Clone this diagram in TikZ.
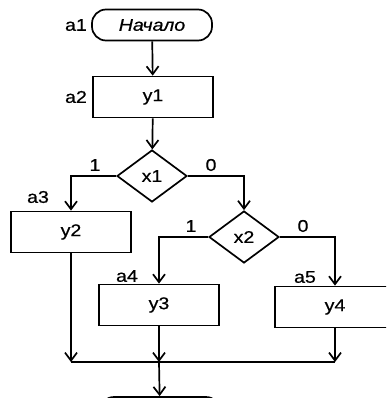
\documentclass[tikz,border=0pt]{standalone}
\usepackage{fontspec}
\setmainfont{Liberation Sans}
\newfontfamily\chartfam[FakeStretch=1.15,FakeBold=0.6]{Liberation Sans}
\usetikzlibrary{shapes.geometric,arrows.meta}

\newcommand{\chartfont}{\chartfam\fontsize{17pt}{20pt}\selectfont}

\tikzset{
  base/.style={draw=black, line width=1.7pt, inner sep=0pt, font=\chartfont},
  term/.style={base, rectangle, rounded corners=14pt, minimum width=120pt, minimum height=31pt},
  blk/.style={base, rectangle, minimum width=120pt, minimum height=41pt},
  cond/.style={base, diamond, minimum width=70pt, minimum height=52pt},
  lbl/.style={inner sep=0pt, font=\chartfont},
  flow/.style={line width=1.7pt, -{Straight Barb[length=8pt,width=12pt,line width=1.7pt]}},
  wire/.style={line width=1.7pt}
}

\begin{document}
\begin{tikzpicture}[x=1pt, y=-1pt]
  \useasboundingbox (0,0) rectangle (386,398);
  \clip (0,0) rectangle (386,398);

  % blocks
  \node[term] (start) at (152,25) {\itshape Начало};
  \node[blk]  (b1) at (153,97)  {y1};
  \node[cond] (c1) at (152,176) {x1};
  \node[blk]  (b2) at (71,232)  {y2};
  \node[cond] (c2) at (244,237) {x2};
  \node[blk]  (b3) at (159,305) {y3};
  \node[blk]  (b4) at (335,307) {y4};
  \node[term, minimum height=40pt] (stop) at (160,417) {};

  % state marks
  \node[lbl] (m1) at (76,25)  {a1};
  \node[lbl] (m2) at (76,97)  {a2};
  \node[lbl] (m3) at (38,197) {a3};
  \node[lbl] (m4) at (127,276) {a4};
  \node[lbl] (m5) at (305,277) {a5};

  % branch values
  \node[lbl] (v11) at (95,165)  {1};
  \node[lbl] (v10) at (211,165) {0};
  \node[lbl] (v21) at (191,226) {1};
  \node[lbl] (v20) at (303,226) {0};

  % merge points
  \coordinate (j2) at (71,362);
  \coordinate (j3) at (159,362);
  \coordinate (j4) at (335,362);

  % connectors
  \draw[flow] (start) -- (b1);
  \draw[flow] (b1) -- (c1);
  \draw[flow] (c1.west) -| (b2);
  \draw[flow] (c1.east) -| (c2);
  \draw[flow] (c2.west) -| (b3);
  \draw[flow] (c2.east) -| (b4);
  \draw[flow] (b2) -- (j2);
  \draw[flow] (b3) -- (j3);
  \draw[flow] (b4) -- (j4);
  \draw[wire] (j2) -- (j4);
  \draw[flow] (j3) -- (stop);
\end{tikzpicture}
\end{document}
